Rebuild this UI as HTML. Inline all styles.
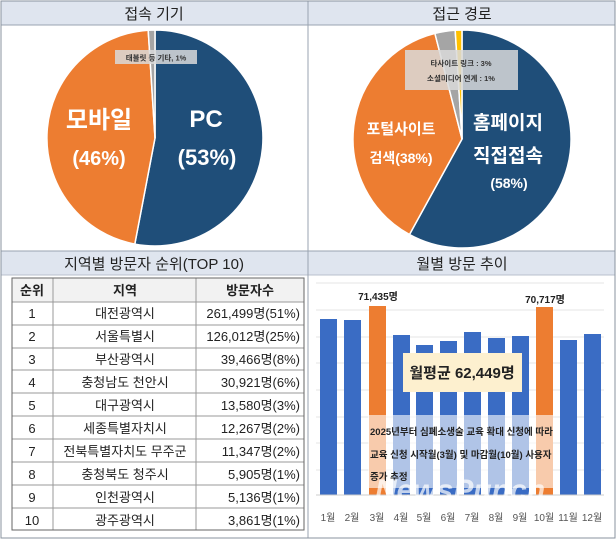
<!DOCTYPE html>
<html><head><meta charset="utf-8"><style>
body{margin:0;background:#fff}
svg text{font-family:"Liberation Sans","Noto Sans CJK KR",sans-serif}
</style></head><body>
<svg width="616" height="541" viewBox="0 0 616 541" xmlns="http://www.w3.org/2000/svg">
<rect x="0" y="0" width="616" height="541" fill="#fff"/>
<!-- headers -->
<rect x="1" y="1" width="614" height="24" fill="#dfe5ef"/>
<rect x="1" y="251" width="614" height="24" fill="#dfe5ef"/>
<line x1="1" y1="25" x2="615" y2="25" stroke="#9aa3b0"/>
<line x1="1" y1="251" x2="615" y2="251" stroke="#9aa3b0"/>
<line x1="1" y1="275" x2="615" y2="275" stroke="#b8c0cc"/>
<line x1="308" y1="1" x2="308" y2="538" stroke="#9aa3b0"/>
<rect x="1" y="1" width="614" height="537" fill="none" stroke="#8a939f"/>
<text x="154" y="19" font-size="15" text-anchor="middle" fill="#222">접속 기기</text>
<text x="462" y="19" font-size="15" text-anchor="middle" fill="#222">접근 경로</text>
<text x="154" y="269" font-size="15" text-anchor="middle" fill="#222">지역별 방문자 순위(TOP 10)</text>
<text x="462" y="269" font-size="15" text-anchor="middle" fill="#222">월별 방문 추이</text>

<!-- pie 1 -->
<g stroke="#fff" stroke-width="1.5">
<path d="M155,138 L155,30 A108,108 0 1 1 134.8,244.1 Z" fill="#1f4e79"/>
<path d="M155,138 L134.8,244.1 A108,108 0 0 1 148.2,30.2 Z" fill="#ed7d31"/>
<path d="M155,138 L148.2,30.2 A108,108 0 0 1 155,30 Z" fill="#a5a5a5"/>
</g>
<rect x="115" y="50" width="82" height="14" fill="#d9d9d9" opacity="0.85"/>
<text x="156" y="60.5" font-size="7.5" font-weight="bold" text-anchor="middle" fill="#333">태블릿 등 기타, 1%</text>
<g fill="#fff" font-weight="bold" text-anchor="middle">
<text x="99" y="128" font-size="24">모바일</text>
<text x="99" y="165" font-size="20">(46%)</text>
<text x="206" y="127" font-size="24">PC</text>
<text x="207" y="165" font-size="22">(53%)</text>
</g>

<!-- pie 2 -->
<g stroke="#fff" stroke-width="1.5">
<path d="M462,139 L462,30 A109,109 0 1 1 409.5,234.5 Z" fill="#1f4e79"/>
<path d="M462,139 L409.5,234.5 A109,109 0 0 1 434.9,33.4 Z" fill="#ed7d31"/>
<path d="M462,139 L434.9,33.4 A109,109 0 0 1 455.2,30.2 Z" fill="#a5a5a5"/>
<path d="M462,139 L455.2,30.2 A109,109 0 0 1 462,30 Z" fill="#ffc000"/>
</g>
<rect x="405" y="50" width="113" height="40" fill="#d9d9d9" opacity="0.85"/>
<text x="461" y="66" font-size="7.5" font-weight="bold" text-anchor="middle" fill="#333">타사이트 링크 : 3%</text>
<text x="461" y="81" font-size="7.5" font-weight="bold" text-anchor="middle" fill="#333">소셜미디어 연계 : 1%</text>
<g fill="#fff" font-weight="bold" text-anchor="middle">
<text x="401" y="134" font-size="15">포털사이트</text>
<text x="401" y="163" font-size="14">검색(38%)</text>
<text x="508" y="129" font-size="19">홈페이지</text>
<text x="508" y="162" font-size="19">직접접속</text>
<text x="509" y="188" font-size="14">(58%)</text>
</g>

<!-- table -->
<g font-size="13" fill="#222">
<rect x="12" y="278" width="292" height="252" fill="#fff" stroke="#777"/>
<rect x="12" y="278" width="292" height="24" fill="#f2f2f2"/>
<g stroke="#999" stroke-width="1">
<line x1="53" y1="278" x2="53" y2="530"/><line x1="196" y1="278" x2="196" y2="530"/>
<line x1="12" y1="302" x2="304" y2="302"/><line x1="12" y1="325" x2="304" y2="325"/>
<line x1="12" y1="348" x2="304" y2="348"/><line x1="12" y1="370" x2="304" y2="370"/>
<line x1="12" y1="393" x2="304" y2="393"/><line x1="12" y1="416" x2="304" y2="416"/>
<line x1="12" y1="439" x2="304" y2="439"/><line x1="12" y1="462" x2="304" y2="462"/>
<line x1="12" y1="485" x2="304" y2="485"/><line x1="12" y1="508" x2="304" y2="508"/>
</g>
<rect x="12" y="278" width="292" height="252" fill="none" stroke="#666"/>
<g text-anchor="middle" font-weight="bold">
<text x="32" y="295">순위</text><text x="125" y="295">지역</text><text x="250" y="295">방문자수</text>
</g>
<g text-anchor="middle">
<text x="32" y="318">1</text><text x="32" y="341">2</text><text x="32" y="364">3</text><text x="32" y="387">4</text><text x="32" y="410">5</text>
<text x="32" y="433">6</text><text x="32" y="456">7</text><text x="32" y="479">8</text><text x="32" y="502">9</text><text x="32" y="525">10</text>
<text x="125" y="318">대전광역시</text><text x="125" y="341">서울특별시</text><text x="125" y="364">부산광역시</text>
<text x="125" y="387">충청남도 천안시</text><text x="125" y="410">대구광역시</text><text x="125" y="433">세종특별자치시</text>
<text x="125" y="456">전북특별자치도 무주군</text><text x="125" y="479">충청북도 청주시</text><text x="125" y="502">인천광역시</text><text x="125" y="525">광주광역시</text>
</g>
<g text-anchor="end">
<text x="300" y="318">261,499명(51%)</text><text x="300" y="341">126,012명(25%)</text><text x="300" y="364">39,466명(8%)</text>
<text x="300" y="387">30,921명(6%)</text><text x="300" y="410">13,580명(3%)</text><text x="300" y="433">12,267명(2%)</text>
<text x="300" y="456">11,347명(2%)</text><text x="300" y="479">5,905명(1%)</text><text x="300" y="502">5,136명(1%)</text><text x="300" y="525">3,861명(1%)</text>
</g>
</g>

<!-- bar chart -->
<g stroke="#e4e4e4">
<line x1="316" y1="283" x2="604" y2="283"/><line x1="316" y1="310" x2="604" y2="310"/>
<line x1="316" y1="337" x2="604" y2="337"/><line x1="316" y1="363" x2="604" y2="363"/>
<line x1="316" y1="390" x2="604" y2="390"/><line x1="316" y1="417" x2="604" y2="417"/>
<line x1="316" y1="443" x2="604" y2="443"/><line x1="316" y1="470" x2="604" y2="470"/>
</g>
<g fill="#3a6cc4">
<rect x="320" y="319" width="17" height="176"/>
<rect x="344" y="320" width="17" height="175"/>
<rect x="369" y="306" width="17" height="189" fill="#ed7d31"/>
<rect x="393" y="335" width="17" height="160"/>
<rect x="416" y="345" width="17" height="150"/>
<rect x="440" y="341" width="17" height="154"/>
<rect x="464" y="332" width="17" height="163"/>
<rect x="488" y="338" width="17" height="157"/>
<rect x="512" y="336" width="17" height="159"/>
<rect x="536" y="307" width="17" height="188" fill="#ed7d31"/>
<rect x="560" y="340" width="17" height="155"/>
<rect x="584" y="334" width="17" height="161"/>
</g>
<line x1="316" y1="495" x2="604" y2="495" stroke="#ccc"/>
<text x="378" y="300" font-size="10" font-weight="bold" text-anchor="middle" fill="#222">71,435명</text>
<text x="545" y="303" font-size="10" font-weight="bold" text-anchor="middle" fill="#222">70,717명</text>
<g font-size="10" fill="#555" text-anchor="middle">
<text x="328" y="521">1월</text><text x="352" y="521">2월</text><text x="377" y="521">3월</text><text x="401" y="521">4월</text>
<text x="424" y="521">5월</text><text x="448" y="521">6월</text><text x="472" y="521">7월</text><text x="496" y="521">8월</text>
<text x="520" y="521">9월</text><text x="544" y="521">10월</text><text x="568" y="521">11월</text><text x="592" y="521">12월</text>
</g>
<rect x="403" y="353" width="119" height="39" fill="#fdf0cf"/>
<text x="462" y="378" font-size="15" font-weight="bold" text-anchor="middle" fill="#222">월평균 62,449명</text>
<rect x="368" y="415" width="185" height="73" fill="#fff" opacity="0.6"/>
<g font-size="9.5" font-weight="bold" fill="#222">
<text x="370" y="435">2025년부터 심폐소생술 교육 확대 신청에 따라</text>
<text x="370" y="458">교육 신청 시작월(3월) 및 마감월(10월) 사용자</text>
<text x="370" y="480">증가 추정</text>
</g>
<text x="375" y="500" font-size="30" font-style="italic" font-weight="bold" fill="#fff" opacity="0.7">NewsPunch</text>
</svg>
</body></html>
